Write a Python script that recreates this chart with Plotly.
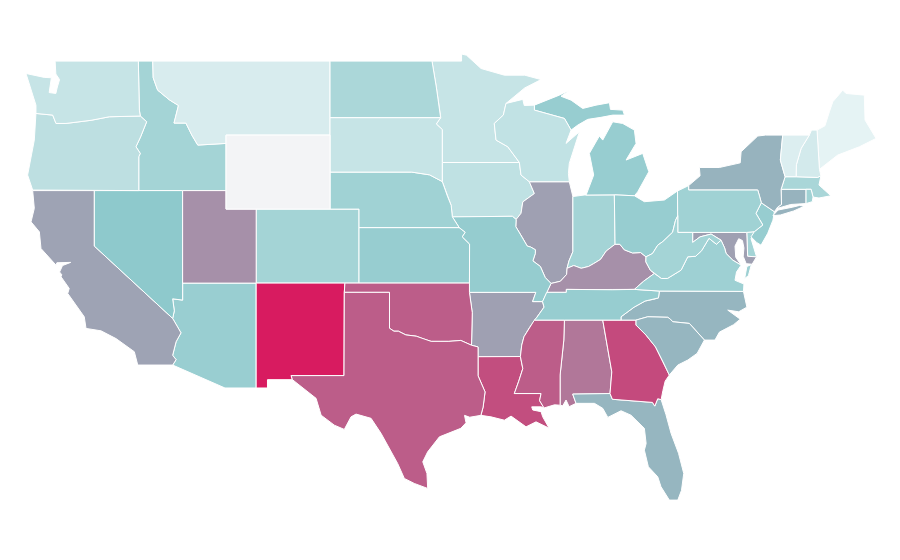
import plotly.graph_objects as go
from plotly.colors import sample_colorscale

state_codes = ["AL","AR","AZ","CA","CO","CT","DC","DE","FL","GA","IA","ID","IL","IN","KS","KY","LA","MA","MD","ME","MI","MN","MO","MS","MT","NC","ND","NE","NH","NJ","NM","NV","NY","OH","OK","OR","PA","RI","SC","SD","TN","TX","UT","VA","VT","WA","WI","WV","WY"]
state_values = [71,58,40,57,35,52,58,35,51,85,23,35,58,35,41,63,84,33,58,6,41,20,42,79,12,51,32,37,14,41,100,45,52,41,79,24,37,37,51,20,41,79,63,38,10,20,22,35,0]
colorscale = [[0, "#f3f4f6"], [0.02, "#eef7f8"], [0.45, "#8ec9cc"], [1, "#d81b60"]]

# shared borders, lon/lat
MN_WI = [(-92.16,46.71),(-92.34,46.08),(-92.95,45.63),(-92.83,44.73),(-92.04,44.37),(-91.26,43.52)]
IA_WI = [(-91.26,43.52),(-91.15,42.84),(-90.59,42.48)]
IA_IL = [(-90.59,42.48),(-90.25,41.84),(-91.03,41.39),(-91.15,40.77),(-91.48,40.44)]
MO_IL = [(-91.48,40.44),(-91.50,40.05),(-91.41,39.93),(-91.05,39.45),(-90.73,39.00),(-90.50,38.95),(-90.18,38.80),(-90.19,38.60),(-90.35,38.20),(-89.85,37.90),(-89.52,37.30),(-89.13,36.98)]
MO_KY = [(-89.13,36.98),(-89.42,36.50)]
MO_TN = [(-89.42,36.50),(-89.70,36.00)]
AR_TN = [(-89.70,36.00),(-89.60,35.70),(-90.10,35.13),(-90.25,35.00)]
AR_MS = [(-90.25,35.00),(-90.58,34.60),(-90.95,34.10),(-91.10,33.65),(-91.19,33.03)]
LA_MS = [(-91.19,33.03),(-91.03,32.38),(-91.30,31.70),(-91.60,31.03),(-89.80,31.03),(-89.90,30.65),(-89.60,30.25)]
IL_KY = [(-89.13,36.98),(-88.50,37.10),(-88.08,37.47),(-88.05,37.80)]
IL_IN = [(-88.05,37.80),(-87.92,38.20),(-87.66,38.70),(-87.66,41.68)]
IN_KY = [(-88.05,37.80),(-87.60,37.95),(-87.10,37.80),(-86.60,37.90),(-86.27,38.05),(-85.80,38.28),(-85.42,38.73),(-84.82,39.10)]
OH_KY = [(-84.82,39.10),(-84.50,39.10),(-84.20,38.80),(-83.65,38.63),(-83.10,38.65),(-82.74,38.42)]
OH_WV = [(-82.74,38.42),(-82.30,38.60),(-81.95,39.05),(-81.60,39.25),(-80.95,39.75),(-80.75,40.40),(-80.60,40.64)]
OH_LAKE = [(-84.87,41.77),(-83.52,41.72),(-82.85,41.40),(-81.50,41.49),(-80.62,41.98)]
KY_WV = [(-82.74,38.42),(-82.75,38.15),(-82.45,37.70),(-82.18,37.52)]
KY_VA = [(-82.18,37.52),(-82.90,37.10),(-83.52,36.66)]
KY_TN = [(-83.52,36.66),(-85.00,36.64),(-86.50,36.65),(-88.10,36.66),(-88.10,36.50),(-89.42,36.50)]
VA_WV = [(-77.69,39.32),(-78.00,39.10),(-78.50,39.42),(-79.00,38.75),(-79.40,38.45),(-79.93,38.42),(-80.38,37.70),(-81.30,37.25),(-81.70,37.25),(-82.18,37.52)]
MD_WV = [(-79.60,39.74),(-79.60,39.20),(-79.10,39.50),(-78.36,39.65),(-77.69,39.32)]
POTOMAC = [(-76.34,37.97),(-76.90,38.24),(-77.35,38.60),(-77.45,38.90),(-77.69,39.32)]
TN_NC = [(-81.84,36.57),(-81.90,36.20),(-82.25,36.12),(-82.80,36.03),(-83.54,35.70),(-84.42,35.18),(-84.42,35.00)]
NC_SC = [(-83.41,35.00),(-82.62,35.18),(-81.27,35.15),(-81.10,35.05),(-80.94,34.91),(-79.82,34.82),(-78.81,33.92)]
GA_SC = [(-83.41,35.00),(-83.41,34.73),(-82.74,34.19),(-82.10,33.55),(-81.60,32.75),(-81.17,32.03)]
AL_GA = [(-85.65,35.00),(-85.43,33.92),(-85.04,32.20),(-85.16,31.03)]
FL_GA = [(-85.16,31.03),(-85.00,30.72),(-82.30,30.55),(-82.15,30.35),(-81.95,30.75),(-81.72,30.70)]
AL_MS = [(-88.23,35.00),(-88.27,33.92),(-88.52,32.03),(-88.52,30.40)]
AL_FL = [(-85.16,31.03),(-87.67,31.00),(-87.45,30.50)]
OK_TX = [(-100.00,34.56),(-99.70,34.40),(-99.40,34.40),(-98.90,34.20),(-98.20,34.13),(-97.70,33.98),(-97.20,33.85),(-96.60,33.85),(-96.00,33.85),(-95.20,33.90),(-94.48,33.64)]
LA_TX = [(-94.04,33.02),(-94.04,31.99),(-93.57,31.12),(-93.70,30.30),(-93.85,29.85)]
ND_MN = [(-97.14,49.00),(-96.85,47.60),(-96.56,46.00),(-96.56,45.94)]
SD_MN = [(-96.56,45.94),(-96.85,45.60),(-96.45,45.30),(-96.45,43.52)]
NE_SD = [(-96.45,42.49),(-97.30,42.85),(-98.50,43.00),(-104.00,43.00)]
IA_NE = [(-96.45,42.49),(-96.10,41.70),(-95.85,41.20),(-95.77,40.58)]
KS_MO = [(-95.31,40.00),(-94.90,39.75),(-95.10,39.50),(-94.61,39.11),(-94.62,37.00)]
ID_MT = [(-115.93,49.00),(-115.90,48.10),(-115.60,47.43),(-114.80,46.90),(-114.20,46.60),(-114.50,45.65),(-113.70,45.65),(-113.30,45.00),(-112.90,44.46),(-111.00,44.55)]
ID_OR = [(-116.87,42.00),(-116.87,43.83),(-116.77,44.01),(-117.06,44.37),(-116.75,44.90),(-116.34,45.72),(-116.77,46.03)]
COLUMBIA = [(-116.77,46.03),(-118.85,45.99),(-120.08,45.80),(-121.77,45.63),(-122.44,45.63),(-122.66,46.08),(-123.79,46.17)]
AZ_CA = [(-114.59,35.09),(-114.03,34.31),(-114.36,33.83),(-114.59,33.10),(-114.36,32.86),(-114.59,32.57)]
AZ_NV = [(-113.92,36.08),(-114.59,36.15),(-114.48,35.50),(-114.59,35.09)]
PA_NJ = [(-74.98,41.34),(-75.34,40.77),(-74.88,40.14),(-75.45,39.78)]
NY_PA = [(-75.22,42.03),(-75.10,41.70),(-74.98,41.34)]
VT_NH = [(-71.75,45.00),(-72.30,44.28),(-72.62,43.40),(-72.64,42.75)]
NY_VT = [(-73.54,45.00),(-73.65,44.20),(-73.70,43.65),(-73.38,42.75)]
MI_WI = [(-90.25,46.62),(-90.25,46.35),(-88.23,45.90),(-87.78,45.27)]


def rev(seg):
    return seg[::-1]


outlines = {
    "WA": [[(-122.50,49.00),(-116.90,49.00),(-116.83,46.35)] + COLUMBIA + [(-123.79,46.62),(-124.12,47.43),(-124.46,48.33),(-123.23,48.12),(-122.75,48.10),(-122.90,47.30),(-122.45,47.25),(-122.35,47.60),(-122.20,48.00),(-122.45,48.30)]],
    "OR": [[(-124.01,42.03)] + ID_OR + COLUMBIA[1:] + [(-123.90,44.73),(-124.35,42.84)]],
    "CA": [[(-124.01,42.00),(-119.86,42.00),(-119.86,39.00)] + AZ_CA + [(-116.94,32.57),(-117.17,33.29),(-118.40,34.00),(-119.41,34.42),(-120.42,34.55),(-120.54,35.18),(-121.65,36.44),(-121.55,36.71),(-122.10,37.34),(-122.05,37.45),(-122.20,37.60),(-122.00,37.95),(-121.45,38.12),(-122.38,38.10),(-122.44,37.97),(-123.45,38.87),(-123.56,39.77),(-124.12,40.31),(-123.90,41.04)]],
    "NV": [[(-119.86,42.00),(-113.92,42.00)] + AZ_NV + [(-119.86,39.00)]],
    "ID": [[(-116.90,49.00)] + ID_MT + [(-111.00,42.00)] + ID_OR + [(-116.83,46.35)]],
    "MT": [ID_MT + [(-111.00,45.00),(-104.00,45.00),(-104.00,49.00)]],
    "UT": [[(-113.92,42.00),(-111.00,42.00),(-111.00,41.00),(-108.97,41.00),(-108.97,37.00),(-113.92,37.00)]],
    "WY": [[(-111.00,45.00),(-104.00,45.00),(-104.00,41.00),(-111.00,41.00)]],
    "CO": [[(-108.97,41.00),(-102.05,41.00),(-102.05,37.00),(-108.97,37.00)]],
    "AZ": [[(-113.92,37.00),(-108.97,37.00),(-108.97,31.33),(-111.07,31.33)] + rev(AZ_CA) + rev(AZ_NV)[1:]],
    "NM": [[(-108.97,37.00),(-103.00,37.00),(-103.04,36.50),(-103.06,32.00),(-106.62,32.00),(-106.53,31.78),(-108.21,31.78),(-108.21,31.33),(-108.97,31.33)]],
    "ND": [[(-104.00,49.00)] + ND_MN + [(-104.00,45.94)]],
    "SD": [[(-104.00,45.94)] + SD_MN + NE_SD],
    "NE": [rev(NE_SD) + IA_NE + [(-95.31,40.00),(-102.05,40.00),(-102.05,41.00),(-104.00,41.00)]],
    "KS": [[(-102.05,40.00)] + KS_MO + [(-102.05,37.00)]],
    "OK": [[(-103.00,37.00),(-94.62,37.00),(-94.62,36.50),(-94.43,35.40)] + rev(OK_TX) + [(-100.00,36.50),(-103.04,36.50)]],
    "TX": [[(-103.04,36.50),(-100.00,36.50)] + OK_TX + [(-94.04,33.55)] + LA_TX + [(-94.60,29.75),(-94.95,29.85),(-94.85,29.45),(-95.20,29.15),(-96.64,28.69),(-97.43,27.88),(-97.76,27.34),(-97.48,26.71),(-97.43,25.90),(-98.33,26.17),(-99.00,26.44),(-99.45,27.25),(-99.90,27.88),(-100.57,28.88),(-101.24,29.69),(-102.25,29.92),(-102.59,29.77),(-103.04,29.09),(-103.71,29.32),(-104.60,29.86),(-104.94,30.77),(-106.07,31.49),(-106.53,31.78),(-106.62,32.00),(-103.06,32.00)]],
    "MN": [[(-97.14,49.00),(-95.15,49.00),(-95.15,49.38),(-94.82,49.32),(-93.84,48.60),(-92.27,48.24),(-90.90,48.24),(-89.80,48.00),(-90.90,47.55)] + MN_WI + rev(SD_MN) + rev(ND_MN)],
    "IA": [[(-96.45,43.52)] + IA_WI + IA_IL[1:] + [(-91.73,40.61)] + rev(IA_NE)],
    "MO": [[(-95.77,40.58),(-91.73,40.61)] + MO_IL + MO_KY[1:] + MO_TN[1:] + [(-90.37,36.00),(-90.15,36.50),(-94.62,36.50)] + rev(KS_MO)],
    "AR": [[(-94.62,36.50),(-90.15,36.50),(-90.37,36.00)] + AR_TN + AR_MS[1:] + [(-94.04,33.02),(-94.04,33.55),(-94.48,33.64),(-94.43,35.40)]],
    "LA": [LA_MS + [(-89.80,30.31),(-90.43,30.31),(-90.36,30.14),(-89.80,30.05),(-89.69,29.77),(-89.26,29.16),(-90.14,29.50),(-90.81,29.23),(-91.49,29.59),(-91.82,29.81),(-92.27,29.59),(-93.17,29.77)] + rev(LA_TX)],
    "WI": [[(-92.16,46.71),(-91.03,46.93),(-90.93,46.60)] + MI_WI + [(-88.12,44.55),(-87.22,45.18),(-87.90,43.47),(-87.96,42.93),(-87.90,42.48)] + rev(IA_WI) + rev(MN_WI)[1:-1]],
    "IL": [[(-90.59,42.48),(-87.90,42.48)] + rev(IL_IN) + rev(IL_KY)[1:] + rev(MO_IL)[1:] + rev(IA_IL)[1:-1]],
    "IN": [[(-87.66,41.68),(-86.90,41.76),(-84.87,41.77)] + rev(IN_KY) + IL_IN[1:-1]],
    "MI": [
        [(-86.77,41.76),(-84.87,41.77),(-83.52,41.72),(-83.30,41.93),(-82.55,43.02),(-82.96,44.01),(-84.08,43.65),(-83.41,44.55),(-83.52,45.27),(-84.31,45.63),(-84.98,45.72),(-85.31,45.27),(-85.65,44.73),(-85.88,44.95),(-86.55,44.01),(-86.26,42.84)],
        MI_WI + [(-87.33,45.54),(-86.66,45.85),(-85.77,45.96),(-84.98,46.08),(-84.19,46.08),(-84.30,46.35),(-85.13,46.39),(-85.20,46.75),(-86.10,46.62),(-87.00,46.44),(-87.78,46.89),(-88.46,47.10),(-87.90,47.43),(-88.57,47.16)],
    ],
    "OH": [OH_LAKE + rev(OH_WV) + rev(OH_KY)[1:]],
    "KY": [KY_VA + KY_TN[1:] + rev(MO_KY)[1:] + IL_KY[1:] + IN_KY[1:] + OH_KY[1:] + KY_WV[1:-1]],
    "TN": [[(-81.84,36.57),(-83.52,36.66)] + KY_TN[1:] + MO_TN[1:] + AR_TN[1:] + [(-88.23,35.00),(-85.65,35.00)] + rev(TN_NC)],
    "MS": [[(-90.25,35.00),(-88.23,35.00)] + AL_MS[1:] + [(-88.90,30.42)] + rev(LA_MS) + rev(AR_MS)[1:]],
    "AL": [AL_MS + [(-88.34,30.37),(-88.12,30.68),(-87.91,30.32)] + rev(AL_FL) + rev(AL_GA)[1:]],
    "GA": [AL_GA + FL_GA[1:] + [(-81.60,31.20),(-81.45,31.70)] + rev(GA_SC)],
    "FL": [FL_GA + [(-81.40,29.90),(-81.05,28.87),(-80.55,27.80),(-80.20,26.71),(-80.35,25.80),(-80.60,25.27),(-81.17,25.27),(-81.73,25.99),(-81.95,26.53),(-82.58,27.07),(-82.85,27.97),(-82.73,28.33),(-82.85,29.15),(-83.75,29.86),(-84.42,30.10),(-85.31,29.74),(-85.65,30.23),(-86.21,30.50)] + rev(AL_FL)[:-1]],
    "SC": [GA_SC + [(-80.60,32.57),(-79.93,32.84),(-79.30,33.20)] + rev(NC_SC)],
    "NC": [[(-81.84,36.57),(-76.18,36.55),(-75.95,35.70),(-76.50,35.45),(-77.24,35.54),(-76.60,35.20),(-76.40,35.05),(-76.85,34.75),(-77.80,34.35),(-78.10,33.92)] + rev(NC_SC) + [(-84.42,35.00)] + rev(TN_NC)[1:]],
    "VA": [
        [(-81.84,36.57),(-76.18,36.55),(-76.15,36.95),(-76.75,37.15),(-76.65,37.60)] + POTOMAC + VA_WV[1:] + KY_VA[1:],
        [(-76.10,37.25),(-75.95,37.90),(-75.65,38.00),(-75.85,37.40)],
    ],
    "WV": [OH_WV + [(-80.60,39.74)] + MD_WV + VA_WV[1:] + rev(KY_WV)[1:]],
    "MD": [[(-79.60,39.74),(-75.96,39.74),(-75.90,38.45),(-75.30,38.42),(-75.60,38.02),(-76.00,38.05),(-76.20,38.45),(-76.15,38.90),(-76.25,39.30),(-76.50,39.40),(-76.75,39.00),(-76.70,38.40)] + POTOMAC + rev(MD_WV)[1:-1]],
    "DC": [[(-77.42,38.93),(-77.30,39.02),(-77.20,38.90),(-77.35,38.78)]],
    "DE": [[(-75.96,39.74),(-75.45,39.78),(-75.67,39.40),(-75.50,39.00),(-75.30,38.42),(-75.90,38.45)]],
    "PA": [[(-80.62,41.98),(-79.87,42.27),(-79.87,42.03)] + NY_PA + PA_NJ[1:] + [(-75.96,39.74),(-80.60,39.74)]],
    "NJ": [PA_NJ + [(-75.67,39.50),(-75.30,39.20),(-75.00,39.05),(-74.55,39.69),(-74.20,40.40),(-74.10,40.86)]],
    "NY": [
        [(-79.87,42.27),(-79.10,42.80),(-79.15,43.25),(-77.80,43.25),(-76.40,43.50),(-76.34,44.10),(-75.22,44.95),(-74.70,45.00)] + NY_VT + [(-73.65,42.07),(-73.62,41.25),(-73.87,41.12),(-74.10,40.86)] + rev(NY_PA) + [(-79.87,42.03)],
        [(-74.20,40.65),(-73.85,40.95),(-72.90,41.10),(-72.40,41.20),(-72.10,41.15),(-72.80,40.90),(-73.70,40.68)],
    ],
    "CT": [[(-73.65,42.07),(-71.97,42.07),(-71.97,41.30),(-73.00,41.25),(-73.85,41.05),(-73.87,41.12),(-73.62,41.25)]],
    "RI": [[(-71.97,42.07),(-71.63,42.07),(-71.50,41.65),(-71.55,41.40),(-71.97,41.30)]],
    "MA": [[(-73.65,42.07),(-73.38,42.75),(-72.64,42.75),(-71.20,42.71),(-70.97,42.80),(-71.10,42.30),(-70.85,42.12),(-70.30,41.72),(-71.10,41.60),(-71.50,41.65),(-71.63,42.07),(-71.97,42.07)]],
    "VT": [NY_VT + rev(VT_NH)],
    "NH": [VT_NH + [(-71.20,42.71),(-70.97,42.80),(-71.07,43.15),(-71.23,45.27),(-71.60,45.27)]],
    "ME": [[(-71.23,45.27),(-70.70,45.50),(-70.40,46.26),(-70.17,46.80),(-69.50,47.43),(-69.28,47.25),(-68.05,47.16),(-68.00,45.81),(-67.26,44.82),(-68.38,44.37),(-69.84,43.92),(-70.96,43.20),(-71.07,43.15)]],
}

fig = go.Figure()
for code, value in zip(state_codes, state_values):
    xs, ys = [], []
    for poly in outlines[code]:
        closed = poly + poly[:1]
        xs += [p[0] for p in closed] + [None]
        ys += [p[1] for p in closed] + [None]
    color = sample_colorscale(colorscale, value / 100)[0]
    fig.add_trace(go.Scatter(
        x=xs, y=ys, mode="lines", fill="toself", fillcolor=color,
        line=dict(color="white", width=1), name=code, text=f"{code}: {value}",
        hoverinfo="text", showlegend=False,
    ))

# page body has an 8px margin, the ranges allow for it
fig.update_xaxes(visible=False, range=[-125.67, -65.11])
fig.update_yaxes(visible=False, range=[21.60, 51.87])
fig.update_layout(
    template=None, width=900, height=560, margin=dict(l=0, r=0, t=0, b=0),
    paper_bgcolor="white", plot_bgcolor="white",
)
fig.write_html("out.html")
